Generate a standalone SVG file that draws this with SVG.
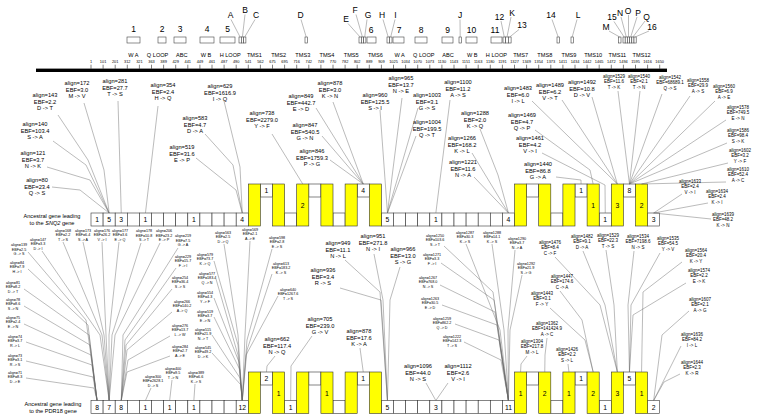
<svg xmlns="http://www.w3.org/2000/svg" width="764" height="420" viewBox="0 0 764 420">
<style>
text{font-family:"Liberation Sans",Arial,sans-serif;fill:#000;text-anchor:middle}
.L{font-size:5.7px}.M{font-size:4.5px}.S{font-size:3.7px}
.n{font-size:3.9px}.fn{font-size:5.6px}.fl{font-size:8.5px}.d{font-size:6.8px}.t{font-size:5.6px}
.w{fill:#fff;stroke:#333;stroke-width:0.6}
.y{fill:#ffff00;stroke:#333;stroke-width:0.6}
.fb{fill:#fff;stroke:#444;stroke-width:0.6}
#conn polyline{fill:none;stroke:#666;stroke-width:0.45}
</style>
<rect width="764" height="420" fill="#fff"/>

<g id="ruler">
<rect x="36" y="68.6" width="631" height="3.4" fill="#000"/>
<path d="M91 64.7v4M103.1 64.7v4M115.2 64.7v4M127.3 64.7v4M139.4 64.7v4M151.5 64.7v4M163.6 64.7v4M175.7 64.7v4M187.8 64.7v4M199.9 64.7v4M212 64.7v4M224.1 64.7v4M236.2 64.7v4M248.3 64.7v4M260.4 64.7v4M272.5 64.7v4M284.6 64.7v4M296.7 64.7v4M308.8 64.7v4M320.9 64.7v4M333 64.7v4M345.1 64.7v4M357.2 64.7v4M369.3 64.7v4M381.4 64.7v4M393.5 64.7v4M405.6 64.7v4M417.7 64.7v4M429.8 64.7v4M441.9 64.7v4M454 64.7v4M466.1 64.7v4M478.2 64.7v4M490.3 64.7v4M502.4 64.7v4M514.5 64.7v4M526.6 64.7v4M538.7 64.7v4M550.8 64.7v4M562.9 64.7v4M575 64.7v4M587.1 64.7v4M599.2 64.7v4M611.3 64.7v4M623.4 64.7v4M635.5 64.7v4M647.6 64.7v4M659.7 64.7v4" stroke="#000" stroke-width="0.5"/>
<g class="n">
<text x="91" y="63.4">1</text><text x="103.1" y="63.4">101</text><text x="115.2" y="63.4">201</text><text x="127.3" y="63.4">312</text><text x="139.4" y="63.4">321</text><text x="151.5" y="63.4">363</text><text x="163.6" y="63.4">389</text><text x="175.7" y="63.4">429</text><text x="187.8" y="63.4">441</text><text x="199.9" y="63.4">449</text><text x="212" y="63.4">461</text><text x="224.1" y="63.4">487</text><text x="236.2" y="63.4">490</text><text x="248.3" y="63.4">541</text><text x="260.4" y="63.4">562</text><text x="272.5" y="63.4">675</text><text x="284.6" y="63.4">695</text><text x="296.7" y="63.4">716</text><text x="308.8" y="63.4">742</text><text x="320.9" y="63.4">749</text><text x="333" y="63.4">770</text><text x="345.1" y="63.4">782</text><text x="357.2" y="63.4">802</text><text x="369.3" y="63.4">889</text><text x="381.4" y="63.4">909</text><text x="393.5" y="63.4">1025</text><text x="405.6" y="63.4">1034</text><text x="417.7" y="63.4">1070</text><text x="429.8" y="63.4">1073</text><text x="441.9" y="63.4">1130</text><text x="454" y="63.4">1143</text><text x="466.1" y="63.4">1151</text><text x="478.2" y="63.4">1163</text><text x="490.3" y="63.4">1180</text><text x="502.4" y="63.4">1191</text><text x="514.5" y="63.4">1327</text><text x="526.6" y="63.4">1349</text><text x="538.7" y="63.4">1354</text><text x="550.8" y="63.4">1373</text><text x="562.9" y="63.4">1411</text><text x="575" y="63.4">1434</text><text x="587.1" y="63.4">1442</text><text x="599.2" y="63.4">1465</text><text x="611.3" y="63.4">1472</text><text x="623.4" y="63.4">1494</text><text x="635.5" y="63.4">1595</text><text x="647.6" y="63.4">1616</text><text x="659.7" y="63.4">1650</text>
</g>
<g class="fn">
<text x="133.4" y="56.7">W A</text><text x="157.6" y="56.7">Q LOOP</text><text x="181.8" y="56.7">ABC</text><text x="206" y="56.7">W B</text><text x="230.2" y="56.7">H LOOP</text><text x="254.4" y="56.7">TMS1</text><text x="278.6" y="56.7">TMS2</text><text x="302.8" y="56.7">TMS3</text><text x="327" y="56.7">TMS4</text><text x="351.2" y="56.7">TMS5</text><text x="375.4" y="56.7">TMS6</text><text x="399.6" y="56.7">W A</text><text x="423.8" y="56.7">Q LOOP</text><text x="448" y="56.7">ABC</text><text x="472.2" y="56.7">W B</text><text x="496.4" y="56.7">H LOOP</text><text x="520.6" y="56.7">TMS7</text><text x="544.8" y="56.7">TMS8</text><text x="569" y="56.7">TMS9</text><text x="593.2" y="56.7">TMS10</text><text x="617.4" y="56.7">TMS11</text><text x="641.6" y="56.7">TMS12</text>
</g>
</g>

<g id="features">
<g class="fb">
<rect x="127" y="37" width="13" height="6"/><rect x="158" y="37" width="8" height="6"/><rect x="174" y="37" width="12" height="6"/><rect x="200" y="37" width="14" height="6"/><rect x="220" y="37" width="15" height="6"/>
<rect x="239" y="37" width="2.3" height="6"/><rect x="241.3" y="37" width="2.3" height="6"/><rect x="243.6" y="37" width="2.3" height="6"/>
<rect x="305" y="37" width="2.5" height="6"/>
<rect x="359" y="37" width="2.3" height="6"/><rect x="361.3" y="37" width="2.3" height="6"/><rect x="363.6" y="37" width="2.3" height="6"/>
<rect x="367" y="37" width="9" height="6"/>
<rect x="387" y="37" width="2.5" height="6"/><rect x="389.5" y="37" width="2.5" height="6"/>
<rect x="393" y="37" width="11" height="6"/><rect x="415" y="37" width="12" height="6"/><rect x="442" y="37" width="11" height="6"/>
<rect x="459" y="37" width="2.5" height="6"/>
<rect x="466" y="37" width="11" height="6"/><rect x="491" y="37" width="11" height="6"/>
<rect x="503" y="37" width="2.7" height="6"/><rect x="505.7" y="37" width="2.7" height="6"/><rect x="508.4" y="37" width="2.7" height="6"/>
<rect x="557" y="37" width="2.5" height="6"/><rect x="571" y="37" width="2.5" height="6"/><rect x="618.5" y="37" width="2.5" height="6"/>
<rect x="623" y="37" width="2.2" height="6"/><rect x="625.2" y="37" width="2.2" height="6"/><rect x="627.4" y="37" width="2.2" height="6"/><rect x="629.6" y="37" width="2.2" height="6"/><rect x="631.8" y="37" width="2.2" height="6"/><rect x="634" y="37" width="2.2" height="6"/>
</g>
<g class="fl">
<text x="133.5" y="32.3">1</text><text x="162" y="32.3">2</text><text x="180" y="32.3">3</text><text x="207" y="32.3">4</text><text x="227.5" y="32.3">5</text>
<text x="230.5" y="18">A</text><text x="245" y="13">B</text><text x="256" y="18">C</text><text x="300.5" y="18">D</text>
<text x="346" y="22">E</text><text x="355" y="13">F</text><text x="368" y="18">G</text><text x="371" y="33">6</text>
<text x="382" y="18">H</text><text x="395.5" y="18">I</text><text x="399" y="33">7</text><text x="421" y="33">8</text><text x="447.5" y="33">9</text>
<text x="460" y="18">J</text><text x="471.5" y="33">10</text><text x="495" y="33">11</text><text x="499.5" y="19.7">12</text>
<text x="512" y="15.7">K</text><text x="522" y="28">13</text><text x="551" y="18">14</text><text x="578" y="18">L</text>
<text x="606" y="30">M</text><text x="612" y="20">15</text><text x="620" y="15.7">N</text><text x="628" y="13.7">O</text><text x="638" y="15.7">P</text><text x="646.5" y="19.7">Q</text><text x="652" y="29.7">16</text>
</g>
</g>

<g id="gene-snq2">
<text class="t" x="52" y="218">Ancestral gene leading</text>
<text class="t" x="52" y="225">to the <tspan font-style="italic">SNQ2</tspan> gene</text>
<g class="w">
<rect x="91" y="213" width="12.1" height="13"/><rect x="103.1" y="213" width="12.1" height="13"/><rect x="115.2" y="213" width="12.1" height="13"/><rect x="127.3" y="213" width="12.1" height="13"/><rect x="139.4" y="213" width="12.1" height="13"/><rect x="151.5" y="213" width="12.1" height="13"/><rect x="163.6" y="213" width="12.1" height="13"/><rect x="175.7" y="213" width="12.1" height="13"/><rect x="187.8" y="213" width="12.1" height="13"/><rect x="199.9" y="213" width="12.1" height="13"/><rect x="212" y="213" width="12.1" height="13"/><rect x="224.1" y="213" width="12.1" height="13"/><rect x="236.2" y="213" width="12.1" height="13"/>
<rect x="284.6" y="213" width="12.1" height="13"/><rect x="333" y="213" width="12.1" height="13"/>
<rect x="381.4" y="213" width="12.1" height="13"/><rect x="393.5" y="213" width="12.1" height="13"/><rect x="405.6" y="213" width="12.1" height="13"/><rect x="417.7" y="213" width="12.1" height="13"/><rect x="429.8" y="213" width="12.1" height="13"/><rect x="441.9" y="213" width="12.1" height="13"/><rect x="454" y="213" width="12.1" height="13"/><rect x="466.1" y="213" width="12.1" height="13"/><rect x="478.2" y="213" width="12.1" height="13"/><rect x="490.3" y="213" width="12.1" height="13"/><rect x="502.4" y="213" width="12.1" height="13"/>
<rect x="550.8" y="213" width="12.1" height="13"/><rect x="599.2" y="213" width="12.1" height="13"/><rect x="647.6" y="213" width="12.1" height="13"/>
<rect x="260.4" y="184" width="12.1" height="13"/><rect x="308.8" y="184" width="12.1" height="13"/><rect x="357.2" y="184" width="12.1" height="13"/><rect x="526.6" y="184" width="12.1" height="13"/><rect x="575" y="184" width="12.1" height="13"/><rect x="623.4" y="184" width="12.1" height="13"/>
</g>
<g class="y">
<rect x="248.3" y="184" width="12.1" height="42"/><rect x="272.5" y="184" width="12.1" height="42"/><rect x="296.7" y="184" width="12.1" height="42"/><rect x="320.9" y="184" width="12.1" height="42"/><rect x="345.1" y="184" width="12.1" height="42"/><rect x="369.3" y="184" width="12.1" height="42"/>
<rect x="514.5" y="184" width="12.1" height="42"/><rect x="538.7" y="184" width="12.1" height="42"/><rect x="562.9" y="184" width="12.1" height="42"/><rect x="587.1" y="184" width="12.1" height="42"/><rect x="611.3" y="184" width="12.1" height="42"/><rect x="635.5" y="184" width="12.1" height="42"/>
</g>
<g class="d">
<text x="97.05" y="222">1</text><text x="109.15" y="222">5</text><text x="121.25" y="222">3</text><text x="145.45" y="222">1</text><text x="193.85" y="222">1</text><text x="242.25" y="222">4</text><text x="387.45" y="222">5</text><text x="435.85" y="222">1</text><text x="508.45" y="222">4</text><text x="605.25" y="222">1</text><text x="653.65" y="222">3</text>
<text x="266.45" y="193">1</text><text x="363.25" y="193">4</text><text x="581.05" y="193">1</text><text x="629.45" y="193">8</text>
<text x="302.75" y="207.8">2</text><text x="593.15" y="207.8">1</text><text x="617.35" y="207.8">3</text><text x="641.55" y="207.8">2</text>
</g>
</g>

<g id="gene-pdr18">
<text class="t" x="53" y="406.3">Ancestral gene leading</text>
<text class="t" x="53" y="412.8">to the PDR18 gene</text>
<g class="w">
<rect x="91" y="400.5" width="12.1" height="13"/><rect x="103.1" y="400.5" width="12.1" height="13"/><rect x="115.2" y="400.5" width="12.1" height="13"/><rect x="127.3" y="400.5" width="12.1" height="13"/><rect x="139.4" y="400.5" width="12.1" height="13"/><rect x="151.5" y="400.5" width="12.1" height="13"/><rect x="163.6" y="400.5" width="12.1" height="13"/><rect x="175.7" y="400.5" width="12.1" height="13"/><rect x="187.8" y="400.5" width="12.1" height="13"/><rect x="199.9" y="400.5" width="12.1" height="13"/><rect x="212" y="400.5" width="12.1" height="13"/><rect x="224.1" y="400.5" width="12.1" height="13"/><rect x="236.2" y="400.5" width="12.1" height="13"/>
<rect x="284.6" y="400.5" width="12.1" height="13"/><rect x="333" y="400.5" width="12.1" height="13"/>
<rect x="381.4" y="400.5" width="12.1" height="13"/><rect x="393.5" y="400.5" width="12.1" height="13"/><rect x="405.6" y="400.5" width="12.1" height="13"/><rect x="417.7" y="400.5" width="12.1" height="13"/><rect x="429.8" y="400.5" width="12.1" height="13"/><rect x="441.9" y="400.5" width="12.1" height="13"/><rect x="454" y="400.5" width="12.1" height="13"/><rect x="466.1" y="400.5" width="12.1" height="13"/><rect x="478.2" y="400.5" width="12.1" height="13"/><rect x="490.3" y="400.5" width="12.1" height="13"/><rect x="502.4" y="400.5" width="12.1" height="13"/>
<rect x="550.8" y="400.5" width="12.1" height="13"/><rect x="599.2" y="400.5" width="12.1" height="13"/><rect x="647.6" y="400.5" width="12.1" height="13"/>
<rect x="260.4" y="372" width="12.1" height="13"/><rect x="308.8" y="372" width="12.1" height="13"/><rect x="357.2" y="372" width="12.1" height="13"/><rect x="526.6" y="372" width="12.1" height="13"/><rect x="575" y="372" width="12.1" height="13"/><rect x="623.4" y="372" width="12.1" height="13"/>
</g>
<g class="y">
<rect x="248.3" y="372" width="12.1" height="41.5"/><rect x="272.5" y="372" width="12.1" height="41.5"/><rect x="296.7" y="372" width="12.1" height="41.5"/><rect x="320.9" y="372" width="12.1" height="41.5"/><rect x="345.1" y="372" width="12.1" height="41.5"/><rect x="369.3" y="372" width="12.1" height="41.5"/>
<rect x="514.5" y="372" width="12.1" height="41.5"/><rect x="538.7" y="372" width="12.1" height="41.5"/><rect x="562.9" y="372" width="12.1" height="41.5"/><rect x="587.1" y="372" width="12.1" height="41.5"/><rect x="611.3" y="372" width="12.1" height="41.5"/><rect x="635.5" y="372" width="12.1" height="41.5"/>
</g>
<g class="d">
<text x="97.05" y="409.5">8</text><text x="109.15" y="409.5">7</text><text x="121.25" y="409.5">8</text><text x="145.45" y="409.5">1</text><text x="169.65" y="409.5">1</text><text x="193.85" y="409.5">1</text><text x="242.25" y="409.5">12</text><text x="290.65" y="409.5">1</text><text x="387.45" y="409.5">5</text><text x="435.85" y="409.5">3</text><text x="508.45" y="409.5">11</text><text x="605.25" y="409.5">1</text><text x="653.65" y="409.5">2</text>
<text x="266.45" y="381">2</text><text x="363.25" y="381">1</text><text x="581.05" y="381">1</text><text x="629.45" y="381">5</text>
<text x="278.55" y="395.5">1</text><text x="326.95" y="395.5">1</text><text x="520.55" y="395.5">1</text><text x="544.75" y="395.5">2</text><text x="568.95" y="395.5">1</text><text x="593.15" y="395.5">2</text><text x="617.35" y="395.5">3</text><text x="641.55" y="395.5">1</text>
</g>
</g>

<g id="conn">
<polyline points="231,19.5 240.1,37"/><polyline points="245,14.5 242.4,37"/><polyline points="255,19.5 244.7,37"/><polyline points="301,19.5 306.2,37"/>
<polyline points="348,23.5 360.1,37"/><polyline points="356,14.5 362.4,37"/><polyline points="367,19.5 364.7,37"/>
<polyline points="383,19.5 388.2,37"/><polyline points="395,19.5 390.7,37"/><polyline points="460,19.5 460.2,37"/>
<polyline points="501,21 504.3,37"/><polyline points="511,17 507,37"/><polyline points="519,29.5 509.7,37"/>
<polyline points="552,19.5 558.2,37"/><polyline points="577,19.5 572.2,37"/><polyline points="609,31 619.7,37"/>
<polyline points="614,21.5 624.1,37"/><polyline points="621,17 626.3,37"/><polyline points="628.5,15 628.5,37"/><polyline points="637,17 630.7,37"/><polyline points="645,21 632.9,37"/><polyline points="649,31 635.1,37"/>

<polyline points="84,103 104,170 109.15,213"/><polyline points="118,101 121.25,213"/><polyline points="158,106 145.45,213"/>
<polyline points="58,115 88,160 109.15,213"/><polyline points="53,141 86,165 109.15,213"/><polyline points="47,167 90,180 109.15,213"/><polyline points="52,187 80,190 109.15,213"/>
<polyline points="196,158 236,190 242.25,213"/><polyline points="205,134 233,165 242.25,213"/><polyline points="224,101 240,167 242.25,213"/>
<polyline points="272,134 302.75,184"/>
<polyline points="333,102 363.25,184"/><polyline points="316,108 363.25,184"/><polyline points="322,136 363.25,184"/><polyline points="330,160 363.25,184"/>
<polyline points="402,98 387.45,213"/><polyline points="380,110 387.45,213"/><polyline points="418,108 387.45,213"/><polyline points="416,136 387.45,213"/>
<polyline points="450,100 435.85,213"/>
<polyline points="480,129 498,175 508.45,213"/><polyline points="472,153 508.45,213"/><polyline points="474,177 508.45,213"/>
<polyline points="532,101 617.35,184"/><polyline points="562,100 617.35,184"/><polyline points="592,97 617.35,184"/>
<polyline points="535,130 590,170 593.15,184"/><polyline points="542,153 605,185 605.25,213"/><polyline points="556,177 581,180 581.05,184"/>
<polyline points="618,91 629.45,184"/><polyline points="640,91 629.45,184"/><polyline points="662,94 629.45,184"/><polyline points="690,96 629.45,184"/><polyline points="715,101 629.45,184"/><polyline points="726,120 629.45,184"/><polyline points="727,143 629.45,184"/>
<polyline points="728,163 641.55,184"/><polyline points="726,182 641.55,184"/>
<polyline points="682,194 653.65,213"/><polyline points="708,203 653.65,213"/><polyline points="711,219 653.65,213"/>

<polyline points="42,251 100,335 109.15,400.5"/><polyline points="63,242 102,335 109.15,400.5"/><polyline points="83,242 104,335 109.15,400.5"/><polyline points="102,242 106,335 109.15,400.5"/><polyline points="119,242 109,335 109.15,400.5"/><polyline points="141,243 112,335 109.15,400.5"/><polyline points="160,243 115,335 109.15,400.5"/>
<polyline points="178,248 123,335 121.25,400.5"/><polyline points="176,268 125,340 121.25,400.5"/><polyline points="172,289 126,345 121.25,400.5"/><polyline points="172,312 127,350 121.25,400.5"/><polyline points="170,336 128,360 121.25,400.5"/><polyline points="170,356 127,372 121.25,400.5"/>
<polyline points="28,252 86,320 97.05,400.5"/><polyline points="28,269 88,325 97.05,400.5"/><polyline points="24,289 89,335 97.05,400.5"/><polyline points="24,306 90,345 97.05,400.5"/><polyline points="24,324 91,355 97.05,400.5"/><polyline points="26,342 92,365 97.05,400.5"/><polyline points="26,361 93,377 97.05,400.5"/><polyline points="26,378 94,388 97.05,400.5"/>
<polyline points="224,244 238,335 242.25,400.5"/><polyline points="250,241 245,335 242.25,400.5"/><polyline points="272,249 247,340 242.25,400.5"/><polyline points="214,261 238,345 242.25,400.5"/><polyline points="272,274 247,350 242.25,400.5"/><polyline points="216,279 238,355 242.25,400.5"/><polyline points="214,298 239,362 242.25,400.5"/><polyline points="214,317 240,370 242.25,400.5"/><polyline points="212,335 240,378 242.25,400.5"/><polyline points="212,353 241,385 242.25,400.5"/><polyline points="278,296 246,355 242.25,400.5"/>
<polyline points="151,388 145.45,400.5"/><polyline points="172,380 169.65,400.5"/><polyline points="195,384 193.85,400.5"/>
<polyline points="444,246 493,292 508.45,400.5"/><polyline points="441,263 494,300 508.45,400.5"/><polyline points="440,285 495,312 508.45,400.5"/><polyline points="442,305 497,325 508.45,400.5"/><polyline points="455,324 499,340 508.45,400.5"/><polyline points="464,342 501,360 508.45,400.5"/><polyline points="466,244 500,330 508.45,400.5"/><polyline points="492,244 504,330 508.45,400.5"/><polyline points="515,250 508,330 508.45,400.5"/><polyline points="522,275 510,330 508.45,400.5"/>
<polyline points="345,260 380,292 387.45,400.5"/><polyline points="374,254 383,300 387.45,400.5"/><polyline points="400,267 390,300 387.45,400.5"/><polyline points="340,288 381,300 387.45,400.5"/>
<polyline points="312,336 291,366 290.65,400.5"/><polyline points="275,356 267,366 266.45,372"/><polyline points="360,348 363.25,372"/>
<polyline points="426,383 435.85,400.5"/><polyline points="448,383 435.85,400.5"/>
<polyline points="555,257 600,305 617.35,372"/><polyline points="583,251 605,305 617.35,372"/><polyline points="606,250 614,305 617.35,372"/>
<polyline points="634,251 628,305 629.45,372"/><polyline points="660,253 631,305 629.45,372"/><polyline points="686,283 633,315 629.45,372"/>
<polyline points="682,262 643,292 641.55,372"/>
<polyline points="689,311 662,335 653.65,400.5"/><polyline points="681,346 653.65,400.5"/><polyline points="680,374 664,382 653.65,400.5"/>
<polyline points="560,291 582,320 593.15,372"/><polyline points="550,308 585,340 593.15,372"/>
<polyline points="547,338 545,355 544.75,372"/><polyline points="527,356 521,364 520.55,372"/><polyline points="568,364 568.95,372"/>
</g>

<g id="annot-upper">
<text class="L" x="77" y="85">align=172<tspan x="77" dy="6.6">EBF=3.0</tspan><tspan x="77" dy="6.6">M -&gt; V</tspan></text>
<text class="L" x="115" y="83">align=281<tspan x="115" dy="6.6">EBF=27.7</tspan><tspan x="115" dy="6.6">T -&gt; S</tspan></text>
<text class="L" x="163" y="87">align=354<tspan x="163" dy="6.6">EBF=2.4</tspan><tspan x="163" dy="6.6">H -&gt; Q</tspan></text>
<text class="L" x="45" y="97">align=143<tspan x="45" dy="6.6">EBF=2.2</tspan><tspan x="45" dy="6.6">D -&gt; T</tspan></text>
<text class="L" x="35" y="126">align=140<tspan x="35" dy="6.6">EBF=103.4</tspan><tspan x="35" dy="6.6">S -&gt; A</tspan></text>
<text class="L" x="33" y="155">align=121<tspan x="33" dy="6.6">EBF=3.7</tspan><tspan x="33" dy="6.6">N -&gt; K</tspan></text>
<text class="L" x="37" y="182">align=80<tspan x="37" dy="6.6">EBF=23.4</tspan><tspan x="37" dy="6.6">Q -&gt; S</tspan></text>
<text class="L" x="182" y="149">align=519<tspan x="182" dy="6.6">EBF=31.6</tspan><tspan x="182" dy="6.6">E -&gt; P</tspan></text>
<text class="L" x="195" y="120">align=583<tspan x="195" dy="6.6">EBF=4.7</tspan><tspan x="195" dy="6.6">D -&gt; A</tspan></text>
<text class="L" x="220" y="88">align=629<tspan x="220" dy="6.6">EBF=1616.9</tspan><tspan x="220" dy="6.6">I -&gt; Q</tspan></text>
<text class="L" x="262" y="115">align=738<tspan x="262" dy="6.6">EBF=2279.0</tspan><tspan x="262" dy="6.6">Y -&gt; F</tspan></text>
<text class="L" x="330" y="85">align=878<tspan x="330" dy="6.6">EBF=3.0</tspan><tspan x="330" dy="6.6">K -&gt; N</tspan></text>
<text class="L" x="301" y="98">align=849<tspan x="301" dy="6.6">EBF=442.7</tspan><tspan x="301" dy="6.6">E -&gt; D</tspan></text>
<text class="L" x="305" y="127">align=847<tspan x="305" dy="6.6">EBF=540.5</tspan><tspan x="305" dy="6.6">G -&gt; N</tspan></text>
<text class="L" x="312" y="153">align=846<tspan x="312" dy="6.6">EBF=1759.3</tspan><tspan x="312" dy="6.6">P -&gt; G</tspan></text>
<text class="L" x="401" y="80">align=965<tspan x="401" dy="6.6">EBF=13.7</tspan><tspan x="401" dy="6.6">N -&gt; E</tspan></text>
<text class="L" x="375" y="97">align=960<tspan x="375" dy="6.6">EBF=125.5</tspan><tspan x="375" dy="6.6">S -&gt; I</tspan></text>
<text class="L" x="427" y="97">align=1003<tspan x="427" dy="6.6">EBF=3.1</tspan><tspan x="427" dy="6.6">G -&gt; S</tspan></text>
<text class="L" x="427" y="124">align=1004<tspan x="427" dy="6.6">EBF=199.5</tspan><tspan x="427" dy="6.6">Q -&gt; T</tspan></text>
<text class="L" x="458" y="84">align=1100<tspan x="458" dy="6.6">EBF=11.2</tspan><tspan x="458" dy="6.6">A -&gt; S</tspan></text>
<text class="L" x="475" y="115">align=1288<tspan x="475" dy="6.6">EBF=2.0</tspan><tspan x="475" dy="6.6">K -&gt; Q</tspan></text>
<text class="L" x="462" y="140">align=1266<tspan x="462" dy="6.6">EBF=168.2</tspan><tspan x="462" dy="6.6">K -&gt; L</tspan></text>
<text class="L" x="463" y="164">align=1221<tspan x="463" dy="6.6">EBF=11.6</tspan><tspan x="463" dy="6.6">N -&gt; A</tspan></text>
<text class="L" x="518" y="90">align=1483<tspan x="518" dy="6.6">EBF=6.0</tspan><tspan x="518" dy="6.6">I -&gt; L</tspan></text>
<text class="L" x="550" y="87">align=1489<tspan x="550" dy="6.6">EBF=6.2</tspan><tspan x="550" dy="6.6">V -&gt; T</tspan></text>
<text class="L" x="582" y="84">align=1492<tspan x="582" dy="6.6">EBF=10.8</tspan><tspan x="582" dy="6.6">D -&gt; V</tspan></text>
<text class="L" x="522" y="117">align=1469<tspan x="522" dy="6.6">EBF=4.7</tspan><tspan x="522" dy="6.6">Q -&gt; P</tspan></text>
<text class="L" x="530" y="140">align=1461<tspan x="530" dy="6.6">EBF=4.2</tspan><tspan x="530" dy="6.6">V -&gt; I</tspan></text>
<text class="L" x="538" y="166">align=1440<tspan x="538" dy="6.6">EBF=86.8</tspan><tspan x="538" dy="6.6">G -&gt; A</tspan></text>
<text class="M" x="614" y="78">align=1529<tspan x="614" dy="5.4">EBF=11.6</tspan><tspan x="614" dy="5.4">T -&gt; K</tspan></text>
<text class="M" x="639" y="78">align=1540<tspan x="639" dy="5.4">EBF=2.1</tspan><tspan x="639" dy="5.4">T -&gt; N</tspan></text>
<text class="M" x="670" y="79">align=1542<tspan x="670" dy="5.4">EBF=68689.1</tspan><tspan x="670" dy="5.4">Q -&gt; S</tspan></text>
<text class="M" x="698" y="82">align=1558<tspan x="698" dy="5.4">EBF=29.9</tspan><tspan x="698" dy="5.4">A -&gt; S</tspan></text>
<text class="M" x="724" y="88">align=1560<tspan x="724" dy="5.4">EBF=6.9</tspan><tspan x="724" dy="5.4">A -&gt; E</tspan></text>
<text class="M" x="738" y="109">align=1578<tspan x="738" dy="5.4">EBF=749.5</tspan><tspan x="738" dy="5.4">E -&gt; N</tspan></text>
<text class="M" x="738" y="132">align=1586<tspan x="738" dy="5.4">EBF=98.4</tspan><tspan x="738" dy="5.4">S -&gt; K</tspan></text>
<text class="M" x="740" y="152">align=1602<tspan x="740" dy="5.4">EBF=3.2</tspan><tspan x="740" dy="5.4">Y -&gt; F</tspan></text>
<text class="M" x="738" y="171">align=1610<tspan x="738" dy="5.4">EBF=52.4</tspan><tspan x="738" dy="5.4">A -&gt; C</tspan></text>
<text class="M" x="690" y="183">align=1633<tspan x="690" dy="5.4">EBF=2.4</tspan><tspan x="690" dy="5.4">V -&gt; I</tspan></text>
<text class="M" x="717" y="193">align=1634<tspan x="717" dy="5.4">EBF=2.4</tspan><tspan x="717" dy="5.4">K -&gt; I</tspan></text>
<text class="M" x="723" y="216">align=1639<tspan x="723" dy="5.4">EBF=48.2</tspan><tspan x="723" dy="5.4">K -&gt; N</tspan></text>
</g>

<g id="annot-lower">
<text class="L" x="338" y="245">align=949<tspan x="338" dy="6.6">EBF=11.1</tspan><tspan x="338" dy="6.6">N -&gt; L</tspan></text>
<text class="L" x="373" y="238">align=951<tspan x="373" dy="6.6">EBF=271.8</tspan><tspan x="373" dy="6.6">N -&gt; I</tspan></text>
<text class="L" x="403" y="251">align=966<tspan x="403" dy="6.6">EBF=13.0</tspan><tspan x="403" dy="6.6">S -&gt; G</tspan></text>
<text class="L" x="323" y="272">align=936<tspan x="323" dy="6.6">EBF=3.4</tspan><tspan x="323" dy="6.6">R -&gt; S</tspan></text>
<text class="L" x="320" y="321">align=705<tspan x="320" dy="6.6">EBF=239.0</tspan><tspan x="320" dy="6.6">G -&gt; V</tspan></text>
<text class="L" x="277" y="341">align=662<tspan x="277" dy="6.6">EBF=117.4</tspan><tspan x="277" dy="6.6">N -&gt; Q</tspan></text>
<text class="L" x="359" y="333">align=878<tspan x="359" dy="6.6">EBF=17.6</tspan><tspan x="359" dy="6.6">K -&gt; A</tspan></text>
<text class="L" x="418" y="368">align=1096<tspan x="418" dy="6.6">EBF=44.0</tspan><tspan x="418" dy="6.6">N -&gt; S</tspan></text>
<text class="L" x="458" y="368">align=1112<tspan x="458" dy="6.6">EBF=2.6</tspan><tspan x="458" dy="6.6">V -&gt; I</tspan></text>
<text class="M" x="550" y="244">align=1476<tspan x="550" dy="5.4">EBF=8.4</tspan><tspan x="550" dy="5.4">C -&gt; F</tspan></text>
<text class="M" x="582" y="238">align=1482<tspan x="582" dy="5.4">EBF=9.1</tspan><tspan x="582" dy="5.4">D -&gt; A</tspan></text>
<text class="M" x="608" y="237">align=1529<tspan x="608" dy="5.4">EBF=22.3</tspan><tspan x="608" dy="5.4">T -&gt; S</tspan></text>
<text class="M" x="638" y="238">align=1534<tspan x="638" dy="5.4">EBF=7198.6</tspan><tspan x="638" dy="5.4">N -&gt; S</tspan></text>
<text class="M" x="668" y="240">align=1535<tspan x="668" dy="5.4">EBF=54.5</tspan><tspan x="668" dy="5.4">Y -&gt; V</tspan></text>
<text class="M" x="696" y="252">align=1564<tspan x="696" dy="5.4">EBF=20.4</tspan><tspan x="696" dy="5.4">K -&gt; Y</tspan></text>
<text class="M" x="699" y="272">align=1574<tspan x="699" dy="5.4">EBF=2.2</tspan><tspan x="699" dy="5.4">E -&gt; K</tspan></text>
<text class="M" x="700" y="301">align=1607<tspan x="700" dy="5.4">EBF=2.1</tspan><tspan x="700" dy="5.4">A -&gt; G</tspan></text>
<text class="M" x="692" y="336">align=1636<tspan x="692" dy="5.4">EBF=84.2</tspan><tspan x="692" dy="5.4">I -&gt; L</tspan></text>
<text class="M" x="692" y="364">align=1644<tspan x="692" dy="5.4">EBF=2.3</tspan><tspan x="692" dy="5.4">K -&gt; R</tspan></text>
<text class="M" x="562" y="278">align=1447<tspan x="562" dy="5.4">EBF=174.6</tspan><tspan x="562" dy="5.4">C -&gt; A</tspan></text>
<text class="M" x="542" y="295">align=1443<tspan x="542" dy="5.4">EBF=3.1</tspan><tspan x="542" dy="5.4">F -&gt; Y</tspan></text>
<text class="M" x="547" y="325">align=1362<tspan x="547" dy="5.4">EBF=141424.9</tspan><tspan x="547" dy="5.4">A -&gt; C</tspan></text>
<text class="M" x="532" y="343">align=1304<tspan x="532" dy="5.4">EBF=217.8</tspan><tspan x="532" dy="5.4">M -&gt; L</tspan></text>
<text class="M" x="567" y="351">align=1426<tspan x="567" dy="5.4">EBF=2.2</tspan><tspan x="567" dy="5.4">S -&gt; L</tspan></text>
<text class="S" x="38" y="240.5">align=147<tspan x="38" dy="4.6">EBF=3.3</tspan><tspan x="38" dy="4.6">D -&gt; I</tspan></text>
<text class="S" x="19" y="246">align=139<tspan x="19" dy="4.6">EBF=2.5</tspan><tspan x="19" dy="4.6">G -&gt; S</tspan></text>
<text class="S" x="17" y="263.5">align=84<tspan x="17" dy="4.6">EBF=7.9</tspan><tspan x="17" dy="4.6">H -&gt; I</tspan></text>
<text class="S" x="13" y="283.5">align=81<tspan x="13" dy="4.6">EBF=8.2</tspan><tspan x="13" dy="4.6">D -&gt; T</tspan></text>
<text class="S" x="13" y="300.5">align=78<tspan x="13" dy="4.6">EBF=8.6</tspan><tspan x="13" dy="4.6">S -&gt; N</tspan></text>
<text class="S" x="13" y="318.5">align=75<tspan x="13" dy="4.6">EBF=2.4</tspan><tspan x="13" dy="4.6">E -&gt; N</tspan></text>
<text class="S" x="15" y="337.5">align=74<tspan x="15" dy="4.6">EBF=3.7</tspan><tspan x="15" dy="4.6">R -&gt; L</tspan></text>
<text class="S" x="15" y="356.5">align=73<tspan x="15" dy="4.6">EBF=3.1</tspan><tspan x="15" dy="4.6">R -&gt; S</tspan></text>
<text class="S" x="15" y="373.5">align=71<tspan x="15" dy="4.6">EBF=8.3</tspan><tspan x="15" dy="4.6">D -&gt; E</tspan></text>
<text class="S" x="63" y="231.5">align=168<tspan x="63" dy="4.6">EBF=2.2</tspan><tspan x="63" dy="4.6">T -&gt; S</tspan></text>
<text class="S" x="83" y="231.5">align=173<tspan x="83" dy="4.6">EBF=6.4</tspan><tspan x="83" dy="4.6">S -&gt; A</tspan></text>
<text class="S" x="102" y="231.5">align=176<tspan x="102" dy="4.6">EBF=26.2</tspan><tspan x="102" dy="4.6">V -&gt; I</tspan></text>
<text class="S" x="120" y="231.5">align=177<tspan x="120" dy="4.6">EBF=3.6</tspan><tspan x="120" dy="4.6">E -&gt; Q</tspan></text>
<text class="S" x="144" y="232">align=178<tspan x="144" dy="4.6">EBF=10.8</tspan><tspan x="144" dy="4.6">S -&gt; T</tspan></text>
<text class="S" x="164" y="232">align=206<tspan x="164" dy="4.6">EBF=23.2</tspan><tspan x="164" dy="4.6">E -&gt; P</tspan></text>
<text class="S" x="183" y="237">align=219<tspan x="183" dy="4.6">EBF=7.5</tspan><tspan x="183" dy="4.6">G -&gt; A</tspan></text>
<text class="S" x="183" y="257.5">align=229<tspan x="183" dy="4.6">EBF=15.7</tspan><tspan x="183" dy="4.6">F -&gt; I</tspan></text>
<text class="S" x="223" y="233.5">align=563<tspan x="223" dy="4.6">EBF=2.5</tspan><tspan x="223" dy="4.6">D -&gt; Q</tspan></text>
<text class="S" x="250" y="230.5">align=569<tspan x="250" dy="4.6">EBF=2.1</tspan><tspan x="250" dy="4.6">A -&gt; E</tspan></text>
<text class="S" x="277" y="238.5">align=598<tspan x="277" dy="4.6">EBF=2.8</tspan><tspan x="277" dy="4.6">E -&gt; S</tspan></text>
<text class="S" x="205" y="255.5">align=579<tspan x="205" dy="4.6">EBF=73.7</tspan><tspan x="205" dy="4.6">K -&gt; Q</tspan></text>
<text class="S" x="281" y="264.5">align=613<tspan x="281" dy="4.6">EBF=183.2</tspan><tspan x="281" dy="4.6">K -&gt; S</tspan></text>
<text class="S" x="207" y="274.5">align=577<tspan x="207" dy="4.6">EBF=183.4</tspan><tspan x="207" dy="4.6">Q -&gt; N</tspan></text>
<text class="S" x="180" y="278.5">align=254<tspan x="180" dy="4.6">EBF=36.4</tspan><tspan x="180" dy="4.6">S -&gt; S</tspan></text>
<text class="S" x="205" y="293.5">align=554<tspan x="205" dy="4.6">EBF=4.3</tspan><tspan x="205" dy="4.6">Y -&gt; F</tspan></text>
<text class="S" x="182" y="302.5">align=266<tspan x="182" dy="4.6">EBF=140.2</tspan><tspan x="182" dy="4.6">A -&gt; Q</tspan></text>
<text class="S" x="205" y="312.5">align=519<tspan x="205" dy="4.6">EBF=3.7</tspan><tspan x="205" dy="4.6">E -&gt; N</tspan></text>
<text class="S" x="180" y="326.5">align=276<tspan x="180" dy="4.6">EBF=13.7</tspan><tspan x="180" dy="4.6">L -&gt; W</tspan></text>
<text class="S" x="203" y="330.5">align=515<tspan x="203" dy="4.6">EBF=21.9</tspan><tspan x="203" dy="4.6">N -&gt; T</tspan></text>
<text class="S" x="180" y="347.5">align=284<tspan x="180" dy="4.6">EBF=2.7</tspan><tspan x="180" dy="4.6">A -&gt; E</tspan></text>
<text class="S" x="203" y="348.5">align=545<tspan x="203" dy="4.6">EBF=49.2</tspan><tspan x="203" dy="4.6">D -&gt; K</tspan></text>
<text class="S" x="173" y="369.5">align=400<tspan x="173" dy="4.6">EBF=9.5</tspan><tspan x="173" dy="4.6">T -&gt; N</tspan></text>
<text class="S" x="196" y="373.5">align=389<tspan x="196" dy="4.6">EBF=6.6</tspan><tspan x="196" dy="4.6">K -&gt; S</tspan></text>
<text class="S" x="153" y="377.5">align=300<tspan x="153" dy="4.6">EBF=2628.1</tspan><tspan x="153" dy="4.6">D -&gt; S</tspan></text>
<text class="S" x="288" y="290.5">align=640<tspan x="288" dy="4.6">EBF=1267.6</tspan><tspan x="288" dy="4.6">T -&gt; S</tspan></text>
<text class="S" x="435" y="236.5">align=1250<tspan x="435" dy="4.6">EBF=103.6</tspan><tspan x="435" dy="4.6">S -&gt; T</tspan></text>
<text class="S" x="432" y="255.5">align=1271<tspan x="432" dy="4.6">EBF=3.3</tspan><tspan x="432" dy="4.6">F -&gt; I</tspan></text>
<text class="S" x="428" y="278.5">align=1267<tspan x="428" dy="4.6">EBF=768.0</tspan><tspan x="428" dy="4.6">N -&gt; S</tspan></text>
<text class="S" x="430" y="299.5">align=1263<tspan x="430" dy="4.6">EBF=30.5</tspan><tspan x="430" dy="4.6">E -&gt; D</tspan></text>
<text class="S" x="442" y="319.5">align=1259<tspan x="442" dy="4.6">EBF=862.2</tspan><tspan x="442" dy="4.6">Q -&gt; D</tspan></text>
<text class="S" x="452" y="337.5">align=1222<tspan x="452" dy="4.6">EBF=142.3</tspan><tspan x="452" dy="4.6">T -&gt; S</tspan></text>
<text class="S" x="465" y="233.5">align=1287<tspan x="465" dy="4.6">EBF=30.3</tspan><tspan x="465" dy="4.6">K -&gt; S</tspan></text>
<text class="S" x="492" y="233.5">align=1288<tspan x="492" dy="4.6">EBF=14.1</tspan><tspan x="492" dy="4.6">K -&gt; S</tspan></text>
<text class="S" x="517" y="239.5">align=1290<tspan x="517" dy="4.6">EBF=3.7</tspan><tspan x="517" dy="4.6">N -&gt; A</tspan></text>
<text class="S" x="526" y="264.5">align=1292<tspan x="526" dy="4.6">EBF=21.9</tspan><tspan x="526" dy="4.6">S -&gt; G</tspan></text>
</g>
</svg>
